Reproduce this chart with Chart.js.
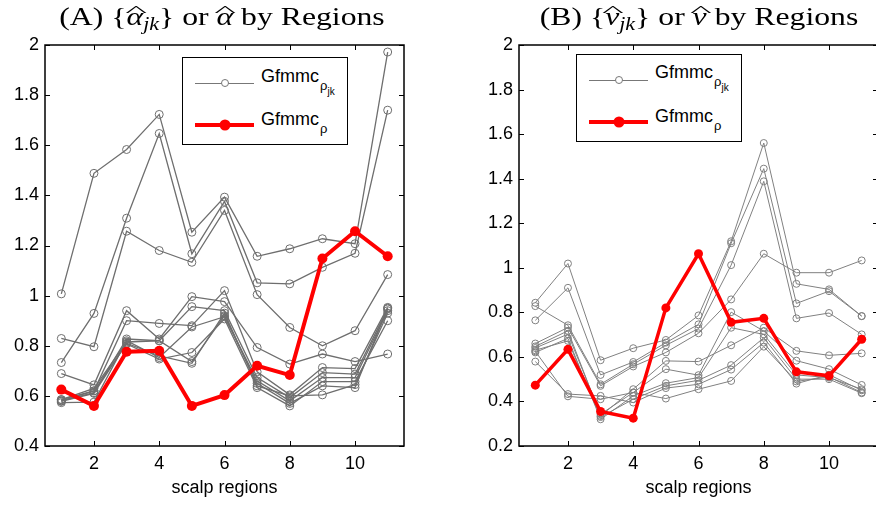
<!DOCTYPE html>
<html>
<head>
<meta charset="utf-8">
<script src="https://cdn.jsdelivr.net/npm/chart.js@4/dist/chart.umd.min.js"></script>
<style>
html, body { margin: 0; padding: 0; background: #fff; overflow: hidden; }
body { width: 876px; height: 506px; position: relative; font-family: "Liberation Sans", Arial, sans-serif; }
canvas { position: absolute; top: 0; }
#chartA { left: 0; }
#chartB { left: 440px; }
.title { position: absolute; top: 4px; font-family: "Liberation Serif", serif; font-size: 26px; line-height: 1; white-space: nowrap; transform: translateX(-50%) scaleX(1.22); }
.title i { font-style: italic; }
.hat { position: relative; display: inline-block; }
.hat::before { content: "^"; position: absolute; left: 55%; top: -3px; font-style: normal; transform: translateX(-50%) scale(1.9, 0.75); font-size: 20px; }
.title sub { font-size: 18px; font-style: italic; vertical-align: -5px; line-height: 0; }
.legend { position: absolute; width: 166px; height: 88px; border: 1.5px solid #000; background: #fff; box-sizing: border-box; }
.sample { position: absolute; left: 12px; width: 59px; }
.sample.grey { top: 25px; border-top: 1.3px solid #777; }
.sample.red { top: 65px; border-top: 4px solid #f00; }
.dot { position: absolute; left: 50%; border-radius: 50%; transform: translate(-50%, -50%); }
.grey .dot { width: 6px; height: 6px; border: 1px solid #777; background: #fff; top: -0.6px; }
.red .dot { width: 11px; height: 11px; background: #f00; top: -2px; }
.lab { position: absolute; left: 78px; font-size: 18px; line-height: 18px; color: #000; }
.s1 { font-size: 13px; position: relative; top: 8px; margin-left: 1px; }
.s2 { font-size: 10px; position: relative; top: 5px; }
</style>
</head>
<body>
<canvas id="chartA" width="440" height="506"></canvas>
<canvas id="chartB" width="460" height="506"></canvas>

<div class="title" style="left:222px">(A) {<i class="hat">α</i><sub>jk</sub>} or <i class="hat">α</i> by Regions</div>
<div class="title" style="left:699px">(B) {<i class="hat">ν</i><sub>jk</sub>} or <i class="hat">ν</i> by Regions</div>

<div class="legend" style="left:182px;top:57px">
  <div class="sample grey"><span class="dot"></span></div>
  <div class="lab" style="top:9px">Gfmmc<span class="s1">ρ<span class="s2">jk</span></span></div>
  <div class="sample red"><span class="dot"></span></div>
  <div class="lab" style="top:52px">Gfmmc<span class="s1">ρ</span></div>
</div>
<div class="legend" style="left:576px;top:54px">
  <div class="sample grey"><span class="dot"></span></div>
  <div class="lab" style="top:8px">Gfmmc<span class="s1">ρ<span class="s2">jk</span></span></div>
  <div class="sample red"><span class="dot"></span></div>
  <div class="lab" style="top:52px">Gfmmc<span class="s1">ρ</span></div>
</div>

<script>
const regions = [1, 2, 3, 4, 5, 6, 7, 8, 9, 10, 11];
const xTicks = [2, 4, 6, 8, 10];
const yTicksA = [0.4, 0.6, 0.8, 1, 1.2, 1.4, 1.6, 1.8, 2];
const yTicksB = [0.2, 0.4, 0.6, 0.8, 1, 1.2, 1.4, 1.6, 1.8, 2];

// (A) alpha: pooled estimate and per-case estimates
const alphaPooled = [0.625, 0.56, 0.776, 0.78, 0.56, 0.603, 0.72, 0.683, 1.148, 1.257, 1.157];
const alphaByCase = [
  [1.007, 1.488, 1.583, 1.723, 1.253, 1.393, 1.157, 1.187, 1.227, 1.207, 1.972],
  [0.733, 0.929, 1.309, 1.647, 1.167, 1.376, 1.051, 1.047, 1.113, 1.169, 1.740],
  [0.829, 0.796, 1.257, 1.180, 1.133, 1.340, 1.004, 0.873, 0.800, 0.860, 1.084],
  [0.689, 0.644, 0.940, 0.827, 0.996, 0.976, 0.793, 0.727, 0.767, 0.737, 0.767],
  [0.585, 0.620, 0.900, 0.889, 0.880, 1.020, 0.696, 0.604, 0.713, 0.709, 0.953],
  [0.580, 0.613, 0.827, 0.820, 0.956, 0.940, 0.673, 0.593, 0.693, 0.687, 0.947],
  [0.573, 0.575, 0.820, 0.753, 0.875, 0.916, 0.660, 0.580, 0.673, 0.673, 0.940],
  [0.580, 0.620, 0.807, 0.747, 0.773, 0.907, 0.633, 0.560, 0.657, 0.657, 0.900],
  [0.585, 0.630, 0.815, 0.820, 0.737, 0.920, 0.650, 0.570, 0.640, 0.633, 0.950],
  [0.578, 0.610, 0.810, 0.760, 0.730, 0.930, 0.640, 0.600, 0.604, 0.645, 0.930]
];

// (B) nu: pooled estimate and per-case estimates
const nuPooled = [0.473, 0.634, 0.355, 0.325, 0.82, 1.063, 0.755, 0.773, 0.533, 0.515, 0.679];
const nuByCase = [
  [0.843, 1.019, 0.585, 0.639, 0.676, 0.786, 1.119, 1.560, 0.928, 0.903, 0.783],
  [0.764, 0.910, 0.519, 0.577, 0.664, 0.746, 1.110, 1.445, 0.840, 0.895, 0.783],
  [0.828, 0.742, 0.477, 0.567, 0.652, 0.727, 1.012, 1.388, 0.773, 0.797, 0.701],
  [0.660, 0.732, 0.470, 0.557, 0.620, 0.706, 0.858, 1.063, 0.978, 0.978, 1.033],
  [0.647, 0.717, 0.335, 0.455, 0.582, 0.579, 0.652, 0.731, 0.627, 0.607, 0.616],
  [0.640, 0.702, 0.343, 0.440, 0.545, 0.518, 0.801, 0.716, 0.583, 0.545, 0.474],
  [0.620, 0.683, 0.320, 0.425, 0.482, 0.507, 0.731, 0.701, 0.519, 0.507, 0.455],
  [0.630, 0.672, 0.330, 0.410, 0.470, 0.495, 0.563, 0.686, 0.500, 0.500, 0.437],
  [0.579, 0.433, 0.425, 0.395, 0.460, 0.477, 0.543, 0.664, 0.480, 0.520, 0.450],
  [0.625, 0.423, 0.410, 0.440, 0.413, 0.455, 0.492, 0.646, 0.490, 0.510, 0.440]
];

const toPoints = vals => vals.map((v, i) => ({ x: regions[i], y: v }));

// box around the plot plus inward ticks, matlab style
const framePlugin = {
  id: 'frame',
  afterDraw(chart) {
    const { ctx, chartArea: a, scales: { x, y } } = chart;
    const len = 5;
    ctx.save();
    ctx.strokeStyle = '#000';
    ctx.lineWidth = 1.5;
    ctx.strokeRect(a.left, a.top, a.right - a.left, a.bottom - a.top);
    ctx.lineWidth = 1;
    ctx.beginPath();
    x.ticks.forEach(t => {
      const px = Math.round(x.getPixelForValue(t.value)) + 0.5;
      ctx.moveTo(px, a.bottom); ctx.lineTo(px, a.bottom - len);
      ctx.moveTo(px, a.top); ctx.lineTo(px, a.top + len);
    });
    y.ticks.forEach(t => {
      const py = Math.round(y.getPixelForValue(t.value)) + 0.5;
      ctx.moveTo(a.left, py); ctx.lineTo(a.left + len, py);
      ctx.moveTo(a.right, py); ctx.lineTo(a.right - len, py);
    });
    ctx.stroke();
    ctx.restore();
  }
};

function makeChart(id, pooled, byCase, yTicks, yMin, opts) {
  const datasets = [{
    data: toPoints(pooled),
    borderColor: '#ff0000',
    backgroundColor: '#ff0000',
    borderWidth: opts.redWidth,
    pointRadius: opts.redRadius,
    pointBackgroundColor: '#ff0000',
    pointBorderWidth: 0,
    tension: 0
  }];
  byCase.forEach(vals => datasets.push({
    data: toPoints(vals),
    borderColor: opts.grey,
    borderWidth: opts.greyWidth,
    pointRadius: opts.greyRadius,
    pointBorderColor: opts.grey,
    pointBackgroundColor: 'rgba(0,0,0,0)',
    pointBorderWidth: 1,
    tension: 0
  }));

  const font = { family: '"Liberation Sans", Arial, sans-serif', size: 18 };

  return new Chart(document.getElementById(id), {
    type: 'line',
    data: { datasets: datasets },
    plugins: [framePlugin],
    options: {
      responsive: false,
      animation: false,
      layout: { padding: { left: 0, right: opts.padRight, top: 45, bottom: 0 } },
      plugins: { legend: { display: false }, tooltip: { enabled: false } },
      scales: {
        x: {
          type: 'linear',
          min: 0.5,
          max: 11.5,
          grid: { display: false, drawTicks: false },
          border: { display: false },
          afterBuildTicks: s => { s.ticks = xTicks.map(v => ({ value: v })); },
          afterFit: s => { s.height = 60; },
          ticks: { color: '#000', font: font, padding: 7, maxRotation: 0, autoSkip: false },
          title: { display: true, text: 'scalp regions', color: '#000', font: font, padding: { top: 0, bottom: 7 } }
        },
        y: {
          type: 'linear',
          min: yMin,
          max: 2,
          grid: { display: false, drawTicks: false },
          border: { display: false },
          afterBuildTicks: s => { s.ticks = yTicks.map(v => ({ value: v })); },
          afterFit: s => { s.width = opts.yWidth; },
          ticks: { color: '#000', font: font, padding: 6, callback: v => String(+v.toFixed(1)) }
        }
      }
    }
  });
}

makeChart('chartA', alphaPooled, alphaByCase, yTicksA, 0.4, {
  grey: '#6e6e6e', greyWidth: 1.3, greyRadius: 4,
  redWidth: 4, redRadius: 5,
  yWidth: 45, padRight: 36
});

makeChart('chartB', nuPooled, nuByCase, yTicksB, 0.2, {
  grey: '#808080', greyWidth: 1, greyRadius: 3.5,
  redWidth: 3.5, redRadius: 4.5,
  yWidth: 79, padRight: 22
});
</script>
</body>
</html>
